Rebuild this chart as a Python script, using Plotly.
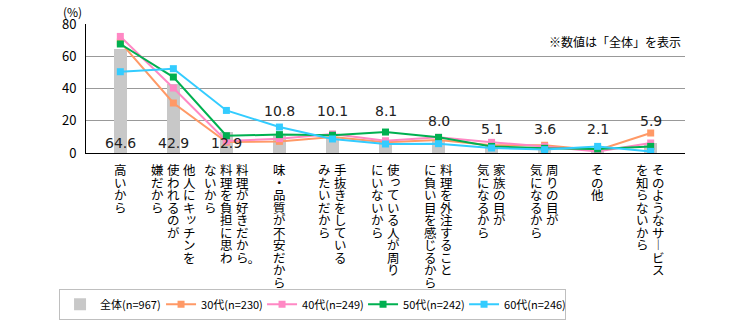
import plotly.graph_objects as go

categories = [
    "高いから",
    "他人にキッチンを\n使われるのが\n嫌だから",
    "料理が好きだから︒\n料理を負担に思わ\nないから",
    "味・品質が不安だから",
    "手抜きをしている\nみたいだから",
    "使っている人が周り\nにいないから",
    "料理を外注すること\nに負い目を感じるから",
    "家族の目が\n気になるから",
    "周りの目が\n気になるから",
    "その他",
    "そのようなサ︱ビス\nを知らないから",
]
total = [64.6, 42.9, 12.9, 10.8, 10.1, 8.1, 8.0, 5.1, 3.6, 2.1, 5.9]
age30 = [68.8, 31.0, 6.8, 7.2, 9.9, 6.6, 8.1, 4.8, 4.8, 1.7, 12.4]
age40 = [72.3, 40.3, 7.4, 8.9, 11.8, 7.6, 9.7, 6.6, 4.1, 1.0, 6.2]
age50 = [67.6, 47.1, 10.7, 11.4, 11.0, 13.0, 9.7, 4.1, 2.9, 2.5, 4.1]
age60 = [50.4, 52.3, 26.4, 16.1, 8.7, 5.6, 5.8, 3.1, 2.1, 4.1, 1.0]
series_names = ["全体(n=967)", "30代(n=230)", "40代(n=249)", "50代(n=242)", "60代(n=246)"]
label_y = [6.2, 6.2, 6.2, 26.2, 26.2, 26.2, 19.6, 14.9, 14.9, 14.9, 19.6]

colors = {"30": "#FF9966", "40": "#FF88C4", "50": "#00B050", "60": "#33CCFF"}

fig = go.Figure()
fig.add_trace(go.Bar(x=categories, y=total, name=series_names[0], width=0.24,
                     marker=dict(color="#C8C8C8", line=dict(width=0))))
for name, vals, key in [(series_names[1], age30, "30"), (series_names[2], age40, "40"),
                        (series_names[3], age50, "50"), (series_names[4], age60, "60")]:
    fig.add_trace(go.Scatter(x=categories, y=vals, name=name, mode="lines+markers",
                             line=dict(color=colors[key], width=2),
                             marker=dict(symbol="square", size=7, color=colors[key])))

annotations = []
# value labels for total
for c, v, ly in zip(categories, total, label_y):
    annotations.append(dict(x=c, y=ly, xref="x", yref="y", text=f"{v:.1f}", showarrow=False,
                            font=dict(family="DejaVu Sans", size=14, color="#222222"),
                            xanchor="center", yanchor="middle"))

# vertical (tategaki) category labels
small_kana = set("っッゃゅょャュョぁぃぅぇぉ")
col_pitch = 16
char_pitch = 12.5
for c in categories:
    cols = c.split("\n")
    n = len(cols)
    for j, col in enumerate(cols):
        xoff = ((n - 1) / 2 - j) * col_pitch
        for i, ch in enumerate(col):
            dx, dy = 0, 0
            if ch in small_kana:
                dx, dy = 2, 2
            if ch == "︒":
                dx, dy = 4, 4
            annotations.append(dict(x=c, xref="x", y=0, yref="paper", text=ch, showarrow=False,
                                    xshift=xoff + dx, yshift=-(16.5 + i * char_pitch) + dy,
                                    xanchor="center", yanchor="middle",
                                    font=dict(family="Noto Sans CJK JP", size=12.5, color="#000000")))

annotations.append(dict(x=-0.041, y=1.10, xref="paper", yref="paper", text="(%)", showarrow=False,
                        xanchor="left", yanchor="middle",
                        font=dict(family="Noto Sans CJK JP", size=12, color="#000000")))
annotations.append(dict(x=0.997, y=0.865, xref="paper", yref="paper", text="※数値は「全体」を表示",
                        showarrow=False, xanchor="right", yanchor="middle",
                        font=dict(family="Noto Sans CJK JP", size=12, color="#000000")))

fig.update_layout(
    width=740, height=320,
    margin=dict(l=86, r=55, t=24, b=167, autoexpand=False),
    plot_bgcolor="white", paper_bgcolor="white",
    font=dict(family="Noto Sans CJK JP", size=12, color="#000000"),
    showlegend=True,
    legend=dict(orientation="h", x=-0.045, y=-1.052, xanchor="left", yanchor="top",
                bordercolor="#BFBFBF", borderwidth=1, entrywidth=56, entrywidthmode="pixels",
                font=dict(family="Noto Sans CJK JP", size=11, color="#000000"),
                itemwidth=30, traceorder="normal"),
    annotations=annotations,
    bargap=0,
)
fig.update_xaxes(showticklabels=False, showline=True, linecolor="#000000", linewidth=1,
                 ticks="", showgrid=False, fixedrange=True)
fig.update_yaxes(range=[0, 80], dtick=20, showline=True, linecolor="#000000", linewidth=1,
                 showgrid=True, gridcolor="#999999", gridwidth=1, zeroline=False, ticks="",
                 tickfont=dict(family="Noto Sans CJK JP", size=13, color="#000000"),
                 ticklabelstandoff=6)

fig.write_html("out.html")
